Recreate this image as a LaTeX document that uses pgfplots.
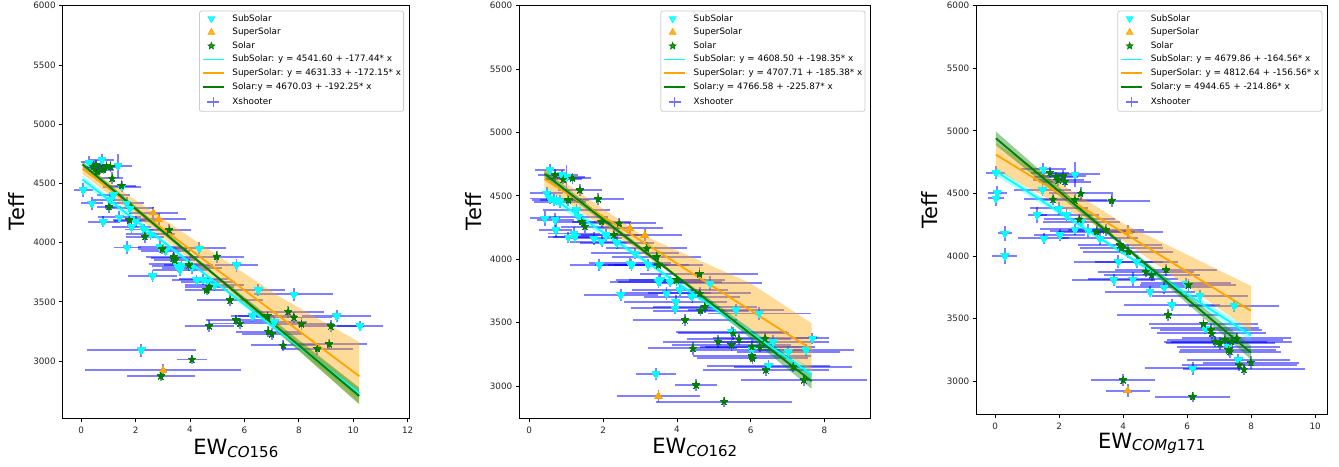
\documentclass[border=0pt]{standalone}
\usepackage{fontspec}
\setmainfont{DejaVu Sans}[ItalicFont={DejaVu Sans Oblique}]
\usepackage{pgfplots}
\usepackage{pgfplotstable}
\pgfplotsset{compat=1.18}
\definecolor{mplorange}{RGB}{255,165,0}
\definecolor{mplgreen}{RGB}{0,128,0}
\definecolor{mplcyan}{RGB}{0,255,255}
\definecolor{mplblue}{RGB}{0,0,255}
\pgfdeclareplotmark{fstar}{%
  \pgfpathmoveto{\pgfpointpolar{90}{\pgfplotmarksize}}%
  \pgfpathlineto{\pgfpointpolar{126}{0.42*\pgfplotmarksize}}%
  \pgfpathlineto{\pgfpointpolar{162}{\pgfplotmarksize}}%
  \pgfpathlineto{\pgfpointpolar{198}{0.42*\pgfplotmarksize}}%
  \pgfpathlineto{\pgfpointpolar{234}{\pgfplotmarksize}}%
  \pgfpathlineto{\pgfpointpolar{270}{0.42*\pgfplotmarksize}}%
  \pgfpathlineto{\pgfpointpolar{306}{\pgfplotmarksize}}%
  \pgfpathlineto{\pgfpointpolar{342}{0.42*\pgfplotmarksize}}%
  \pgfpathlineto{\pgfpointpolar{18}{\pgfplotmarksize}}%
  \pgfpathlineto{\pgfpointpolar{54}{0.42*\pgfplotmarksize}}%
  \pgfpathclose
  \pgfusepathqfillstroke
}

% ---------------- Panel A (CO156) ----------------
\pgfplotstableread{
x y ex ey
0.07 4443 0.35 60
0.29 4677 0.30 50
0.76 4700 0.45 50
1.35 4649 0.50 100
0.39 4331 0.40 55
0.81 4176 0.55 45
1.40 4213 0.80 50
1.18 4401 0.60 50
1.49 4471 0.70 45
1.67 4331 0.65 50
1.79 4289 0.90 45
1.85 4133 0.70 50
1.05 4360 0.60 50
2.00 4180 0.80 45
2.30 4110 0.70 50
2.55 4070 0.90 45
1.69 3959 0.50 55
2.62 3717 0.90 50
2.89 3965 0.80 55
3.10 3930 0.90 45
3.50 3816 1.00 45
3.63 3768 1.00 50
3.69 3802 1.10 45
4.06 3788 1.10 50
4.24 3683 0.90 45
4.48 3690 0.90 45
4.67 3670 1.00 45
4.90 3640 1.10 50
4.34 3951 1.00 50
5.71 3810 0.80 55
6.51 3599 1.00 50
7.82 3563 1.45 55
6.30 3379 0.80 50
7.10 3330 1.20 45
9.39 3379 1.27 50
10.25 3295 0.84 40
2.21 3092 2.00 55
}\tAsub
\pgfplotstableread{
x y ex ey
2.65 4252 0.90 45
2.85 4196 1.00 50
3.01 2923 2.86 50
}\tAsup
\pgfplotstableread{
x y ex ey
0.54 4655 0.30 45
0.69 4627 0.35 45
0.93 4646 0.40 40
1.08 4640 0.35 45
0.60 4600 0.30 40
0.45 4640 0.30 45
0.82 4615 0.40 40
1.14 4542 0.40 50
1.48 4480 0.55 45
1.02 4302 0.45 50
1.77 4190 0.60 45
2.34 4049 0.70 50
2.98 3945 0.90 45
3.24 4106 0.80 50
3.38 3867 0.80 45
3.44 3852 0.75 45
3.40 3880 1.00 40
3.96 3810 0.90 50
4.61 3599 0.80 45
4.71 3627 0.90 50
4.98 3880 1.00 50
5.47 3514 1.20 50
4.71 3295 0.90 50
5.69 3345 1.10 45
5.83 3317 1.10 50
6.88 3247 1.20 45
7.00 3227 1.10 50
6.85 3380 1.10 45
7.43 3132 1.20 45
7.61 3416 1.30 50
7.82 3368 1.40 45
8.10 3312 1.20 50
9.18 3295 1.20 50
9.12 3143 1.40 45
8.68 3103 1.30 50
4.07 3013 0.55 40
2.93 2873 1.24 40
}\tAsol

% ---------------- Panel B (CO162) ----------------
\pgfplotstableread{
x y ex ey
0.56 4704 0.40 45
0.88 4664 0.45 40
1.01 4651 0.50 90
0.47 4520 0.45 50
0.56 4480 0.55 45
0.67 4467 0.60 50
0.74 4467 0.45 40
0.83 4454 0.70 50
0.42 4323 0.40 60
0.70 4310 0.50 55
0.72 4231 0.45 55
1.06 4173 0.55 45
1.21 4204 0.70 50
1.24 4178 0.60 45
1.28 4388 0.90 50
1.33 4336 0.80 45
1.75 4165 0.75 50
1.96 4139 0.85 45
2.08 4191 0.90 50
1.90 3955 0.80 50
2.48 3718 1.00 45
2.37 4131 1.00 50
2.73 3968 1.10 45
2.77 3955 1.00 50
2.86 4047 1.20 45
3.22 3955 1.10 50
3.50 3823 1.30 50
3.55 3836 1.20 45
3.72 3731 1.20 50
3.81 3823 1.40 45
4.08 3757 1.30 50
3.97 3665 1.40 50
3.95 3613 1.20 45
4.40 3705 1.30 50
4.90 3810 1.40 55
5.60 3600 1.30 50
6.23 3573 1.40 50
5.48 3429 1.50 45
6.03 3284 1.60 50
6.61 3350 1.50 50
7.02 3271 1.40 45
7.50 3284 1.30 50
7.67 3376 0.45 45
6.48 3158 1.67 45
3.43 3095 0.55 50
}\tBsub
\pgfplotstableread{
x y ex ey
2.73 4244 0.90 45
3.13 4191 1.00 50
3.50 2921 1.13 50
}\tBsup
\pgfplotstableread{
x y ex ey
0.70 4664 0.45 45
0.92 4630 0.50 40
1.17 4638 0.50 45
1.37 4546 0.60 50
1.87 4475 0.70 45
1.06 4467 0.55 50
1.42 4296 0.70 45
1.51 4257 0.65 50
1.96 4296 0.80 45
2.29 4191 0.90 50
2.44 4283 1.00 45
3.18 4086 1.10 50
3.45 4020 1.20 45
3.50 3955 1.20 50
3.99 3836 1.30 50
4.22 3521 1.40 45
4.61 3883 1.60 55
4.62 3731 1.40 50
4.64 3594 1.30 45
4.76 3626 1.40 50
4.43 3297 1.20 50
4.52 3008 0.56 45
5.12 3350 1.50 50
5.48 3324 1.60 45
5.53 3416 1.50 50
5.68 3368 1.40 45
6.03 3237 1.60 50
6.05 3219 1.50 45
6.03 3310 1.40 50
6.25 3310 1.50 45
6.41 3127 1.70 50
7.15 3153 1.60 45
7.44 3048 1.70 50
5.28 2877 1.85 40
6.39 3376 1.40 45
}\tBsol

% ---------------- Panel C (COMg171) ----------------
\pgfplotstableread{
x y ex ey
0.02 4665 0.30 50
0.02 4460 0.25 60
0.06 4505 0.30 50
0.30 4180 0.22 60
0.30 4000 0.39 65
1.50 4692 0.70 50
2.49 4652 0.80 100
1.48 4527 0.90 45
1.31 4327 0.30 60
1.52 4140 0.80 45
2.00 4380 0.90 50
2.02 4167 0.80 45
2.23 4327 1.00 50
2.49 4212 1.10 45
2.91 4202 1.20 50
2.70 4274 1.20 45
3.27 4140 1.20 50
3.85 3954 1.40 50
3.71 3808 1.30 45
4.30 3813 1.40 55
4.42 3954 1.30 50
4.84 3714 1.40 45
5.28 3749 1.50 50
5.52 3608 1.50 50
5.96 3781 1.40 45
6.40 3680 1.50 50
7.47 3600 1.40 50
6.56 3421 1.70 45
7.29 3275 1.60 50
7.60 3168 1.60 45
6.17 3102 1.50 50
}\tCsub
\pgfplotstableread{
x y ex ey
4.16 4194 1.10 50
4.14 2923 0.69 50
}\tCsup
\pgfplotstableread{
x y ex ey
1.71 4665 0.60 45
1.90 4633 0.70 40
1.97 4607 0.80 45
2.13 4639 0.70 50
2.18 4593 0.80 45
2.67 4500 1.00 50
1.81 4452 0.90 45
2.49 4447 1.00 50
3.64 4442 1.20 50
2.63 4292 1.10 45
3.17 4194 1.20 50
3.46 4207 1.20 45
3.90 4087 1.30 50
3.95 4061 1.30 45
4.16 4034 1.40 50
4.71 3874 1.50 45
4.89 3847 1.50 50
5.34 3888 1.60 50
6.04 3768 1.50 45
5.41 3528 1.60 45
6.51 3456 1.70 50
6.77 3381 1.70 45
6.74 3408 1.60 50
6.88 3315 1.60 45
7.03 3301 1.70 50
7.18 3328 1.80 45
7.39 3315 1.90 50
7.55 3341 1.70 45
7.34 3235 1.60 50
7.29 3248 1.50 45
7.63 3128 1.80 50
7.78 3094 1.90 45
7.99 3147 1.50 50
4.00 3008 0.99 45
6.17 2875 1.16 40
}\tCsol

\newcommand{\ebars}[1]{\addplot[forget plot, only marks, mark=none,
  error bars/.cd, x dir=both, x explicit, y dir=both, y explicit, error mark=none,
  error bar style={draw=mplblue, draw opacity=0.5, line width=1.8pt}]
  table[x=x, y=y, x error=ex, y error=ey] {#1};}
\newcommand{\subm}[1]{\addplot[forget plot, only marks, mark=triangle*, mark size=4.4pt,
  mark options={rotate=180, fill=mplcyan, draw=mplcyan, line width=0pt}] table[x=x, y=y] {#1};}
\newcommand{\supm}[1]{\addplot[forget plot, only marks, mark=triangle*, mark size=4.4pt,
  mark options={fill=mplorange, draw=mplorange, line width=0pt}] table[x=x, y=y] {#1};}
\newcommand{\solm}[1]{\addplot[forget plot, only marks, mark=fstar, mark size=3.8pt,
  mark options={fill=mplgreen, draw=mplgreen, line width=0pt}] table[x=x, y=y] {#1};}

\newcommand{\legendset}[3]{%
  \addlegendimage{only marks, mark=triangle*, mark size=3.8pt, mark options={rotate=180, fill=mplcyan, draw=mplcyan}}
  \addlegendentry{SubSolar}
  \addlegendimage{only marks, mark=triangle*, mark size=3.8pt, mark options={fill=mplorange, draw=mplorange}}
  \addlegendentry{SuperSolar}
  \addlegendimage{only marks, mark=fstar, mark size=3.4pt, mark options={fill=mplgreen, draw=mplgreen}}
  \addlegendentry{Solar}
  \addlegendimage{legend image code/.code={\draw[draw=mplcyan, line width=1.8pt] (0pt,0pt)--(21pt,0pt);}}
  \addlegendentry{#1}
  \addlegendimage{legend image code/.code={\draw[draw=mplorange, line width=1.8pt] (0pt,0pt)--(21pt,0pt);}}
  \addlegendentry{#2}
  \addlegendimage{legend image code/.code={\draw[draw=mplgreen, line width=1.8pt] (0pt,0pt)--(21pt,0pt);}}
  \addlegendentry{#3}
  \addlegendimage{legend image code/.code={\draw[draw=mplblue, draw opacity=0.55, line width=1.6pt] (4.5pt,0pt)--(16.5pt,0pt) (10.5pt,-5pt)--(10.5pt,5pt);}}
  \addlegendentry{Xshooter}
}

\pgfplotsset{
  panel/.style={
    scale only axis, anchor=south west,
    ymax=6000, ytick={3000,3500,4000,4500,5000,5500,6000},
    xtick pos=lower, ytick pos=left,
    tick align=outside, major tick length=3.5pt,
    tick style={black, line width=0.8pt},
    axis line style={line width=0.8pt},
    /pgf/number format/assume math mode=true,
    /pgf/number format/1000 sep={},
    tick label style={font=\fontsize{8.8}{10}\selectfont, text=black!85},
    xticklabel style={yshift=-1.5pt},
    label style={font=\fontsize{21}{25}\selectfont},
    ylabel={Teff},
    ylabel style={anchor=south, inner sep=0pt},
    xlabel style={anchor=base, inner sep=0pt},
    legend cell align=left,
    legend style={at={(rel axis cs:1,1)}, anchor=north east, xshift=-5pt, yshift=-5pt,
      font=\fontsize{8.8}{10}\selectfont, draw=black!20, line width=0.8pt, rounded corners=2pt,
      fill=white, fill opacity=0.8, text opacity=1, draw opacity=1,
      inner xsep=2.5pt, inner ysep=3.5pt, row sep=5.2pt, column sep=7.7pt,
      nodes={inner sep=0pt, text height=6.6pt, text depth=1.8pt}},
  }
}

\begin{document}
\begin{tikzpicture}
\path[use as bounding box] (0pt,0pt) rectangle (1339pt,466pt);

% ================= Panel A =================
\begin{axis}[panel, at={(62.7pt,48pt)}, width=346.3pt, height=412.3pt,
  xmin=-0.68, xmax=12.05, ymin=2519,
  xtick={0,2,4,6,8,10,12},
  xlabel={EW\raisebox{-2.5pt}{\fontsize{15}{15}\selectfont\textit{CO}156}},
  xlabel style={at={(axis description cs:0.5,-0.0897)}},
  ylabel style={at={(axis description cs:-0.1089,0.5)}}]
\legendset{SubSolar: y = 4541.60 + -177.44* x}{SuperSolar: y = 4631.33 + -172.15* x}{Solar:y = 4670.03 + -192.25* x}
\ebars{\tAsub}\ebars{\tAsup}\ebars{\tAsol}
\subm{\tAsub}\supm{\tAsup}\solm{\tAsol}
\addplot[forget plot, draw=none, fill=mplcyan, fill opacity=0.3] coordinates {(0.05,4568) (5,3669) (10.22,2773) (10.22,2683) (5,3639) (0.05,4498)} -- cycle;
\addplot[forget plot, draw=none, fill=mplorange, fill opacity=0.4] coordinates {(0.05,4665) (3.63,4103) (7.3,3542) (10.22,3160) (10.22,2640) (7.3,3230) (3.63,3930) (0.05,4580)} -- cycle;
\addplot[forget plot, draw=none, fill=mplgreen, fill opacity=0.4] coordinates {(0.05,4685) (5,3721) (10.22,2775) (10.22,2635) (5,3697) (0.05,4635)} -- cycle;
\addplot[forget plot, draw=mplcyan, line width=1.8pt] coordinates {(0.05,4532.7) (10.22,2728.1)};
\addplot[forget plot, draw=mplorange, line width=1.8pt] coordinates {(0.05,4622.7) (10.22,2871.9)};
\addplot[forget plot, draw=mplgreen, line width=1.8pt] coordinates {(0.05,4660.4) (10.22,2705.3)};
\end{axis}

% ================= Panel B =================
\begin{axis}[panel, at={(519.3pt,48pt)}, width=351pt, height=412.3pt,
  xmin=-0.27, xmax=9.24, ymin=2748,
  xtick={0,2,4,6,8},
  xlabel={EW\raisebox{-2.5pt}{\fontsize{15}{15}\selectfont\textit{CO}162}},
  xlabel style={at={(axis description cs:0.5,-0.0873)}},
  ylabel style={at={(axis description cs:-0.1071,0.5)}}]
\legendset{SubSolar: y = 4608.50 + -198.35* x}{SuperSolar: y = 4707.71 + -185.38* x}{Solar:y = 4766.58 + -225.87* x}
\ebars{\tBsub}\ebars{\tBsup}\ebars{\tBsol}
\subm{\tBsub}\supm{\tBsup}\solm{\tBsol}
\addplot[forget plot, draw=none, fill=mplcyan, fill opacity=0.3] coordinates {(0.41,4567) (4,3830) (7.65,3136) (7.65,3046) (4,3800) (0.41,4487)} -- cycle;
\addplot[forget plot, draw=none, fill=mplorange, fill opacity=0.4] coordinates {(0.41,4715) (3.0,4200) (6.0,3810) (7.65,3495) (7.65,3110) (4.0,3860) (0.41,4570)} -- cycle;
\addplot[forget plot, draw=none, fill=mplgreen, fill opacity=0.4] coordinates {(0.41,4704) (4,3875) (7.65,3099) (7.65,2979) (4,3851) (0.41,4644)} -- cycle;
\addplot[forget plot, draw=mplcyan, line width=1.8pt] coordinates {(0.41,4527.2) (7.65,3091.2)};
\addplot[forget plot, draw=mplorange, line width=1.8pt] coordinates {(0.41,4631.7) (7.65,3289.6)};
\addplot[forget plot, draw=mplgreen, line width=1.8pt] coordinates {(0.41,4674.0) (7.65,3038.6)};
\end{axis}

% ================= Panel C =================
\begin{axis}[panel, at={(976.3pt,51.7pt)}, width=351pt, height=408.6pt,
  xmin=-0.59, xmax=10.38, ymin=2734,
  xtick={0,2,4,6,8,10},
  xlabel={EW\raisebox{-2.5pt}{\fontsize{15}{15}\selectfont\textit{COMg}171}},
  xlabel style={at={(axis description cs:0.5,-0.0832)}},
  ylabel style={at={(axis description cs:-0.1083,0.5)}}]
\legendset{SubSolar: y = 4679.86 + -164.56* x}{SuperSolar: y = 4812.64 + -156.56* x}{Solar:y = 4944.65 + -214.86* x}
\ebars{\tCsub}\ebars{\tCsup}\ebars{\tCsol}
\subm{\tCsub}\supm{\tCsup}\solm{\tCsol}
\addplot[forget plot, draw=none, fill=mplcyan, fill opacity=0.3] coordinates {(0.02,4712) (4,4037) (7.99,3410) (7.99,3320) (4,4007) (0.02,4642)} -- cycle;
\addplot[forget plot, draw=none, fill=mplorange, fill opacity=0.4] coordinates {(0.02,4900) (4,4260) (7.99,3760) (7.99,3400) (4,4120) (0.02,4690)} -- cycle;
\addplot[forget plot, draw=none, fill=mplgreen, fill opacity=0.4] coordinates {(0.02,4995) (4,4100) (7.99,3283) (7.99,3173) (4,4070) (0.02,4885)} -- cycle;
\addplot[forget plot, draw=mplcyan, line width=1.8pt] coordinates {(0.02,4676.6) (7.99,3365.0)};
\addplot[forget plot, draw=mplorange, line width=1.8pt] coordinates {(0.02,4809.5) (7.99,3561.7)};
\addplot[forget plot, draw=mplgreen, line width=1.8pt] coordinates {(0.02,4940.4) (7.99,3227.9)};
\end{axis}
\end{tikzpicture}
\end{document}
